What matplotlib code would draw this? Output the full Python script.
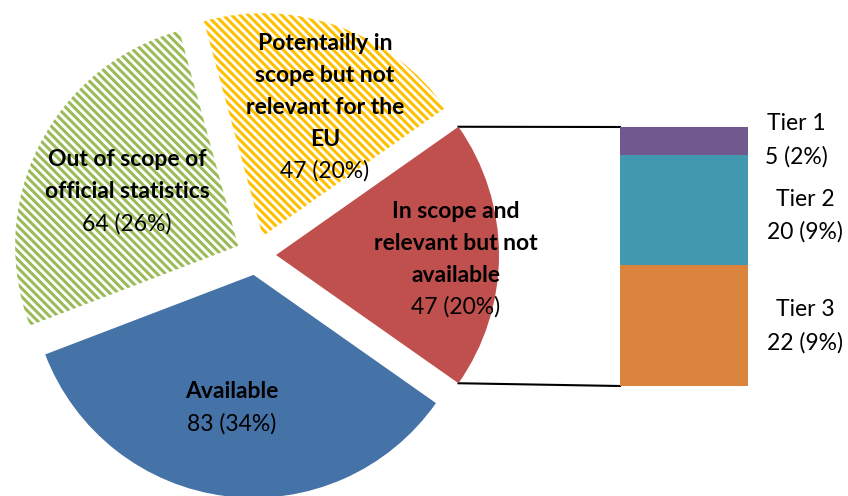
import numpy as np
import matplotlib.pyplot as plt

plt.rcParams['font.family'] = ['Lato', 'DejaVu Sans']
plt.rcParams['hatch.linewidth'] = 2.2

# pie part (counter-clockwise, starting with the slice that is split into the bar)
pie_labels = [["In scope and", "relevant but not", "available"],
              ["Potentailly in", "scope but not", "relevant for the", "EU"],
              ["Out of scope of", "official statistics"],
              ["Available"]]
pie_values = [47, 47, 64, 83]
pie_pct = [20, 20, 26, 34]
pie_colors = ["#C0504D", "#FFC000", "#9BBB59", "#4572A7"]
pie_hatch = [None, "\\\\\\\\", "\\\\\\\\", None]

# bar part (top to bottom)
tier_labels = ["Tier 1", "Tier 2", "Tier 3"]
tier_values = [5, 20, 22]
tier_pct = [2, 9, 9]
tier_colors = ["#71588F", "#4198AF", "#DB843D"]

H = 496
fig = plt.figure(figsize=(8.48, 4.96), dpi=100)
ax = fig.add_axes([0, 0, 1, 1])

cx, cy, r = 256, H - 255, 223
total = sum(pie_values)
start = -pie_values[0] / total * 180
wedges, _ = ax.pie(pie_values, center=(cx, cy), radius=r, startangle=start,
                   explode=[20] * 4, counterclock=True, frame=True)
ax.set_xlim(0, 848)
ax.set_ylim(0, H)
ax.axis("off")
for w, col, h in zip(wedges, pie_colors, pie_hatch):
    w.set_linewidth(0)
    if h:
        w.set_facecolor("white")
        w.set_edgecolor(col)
        w.set_hatch(h)
    else:
        w.set_facecolor(col)

# labels on the pie: first-line y (from top), one line every 32 px
lab_pos = [(456, 211), (325, 43), (127, 160), (232, 392)]
for (x, y0), lines, v, p in zip(lab_pos, pie_labels, pie_values, pie_pct):
    for i, s in enumerate(lines):
        ax.text(x, H - (y0 + 32 * i), s, ha="center", va="center",
                fontsize=16.5, fontweight="bold")
    ax.text(x, H - (y0 + 32 * len(lines)), "%d (%d%%)" % (v, p),
            ha="center", va="center", fontsize=16.5)

# stacked bar
bx0, bw = 620, 128
btop = H - 127
scale = 259 / sum(tier_values)
bottom = btop
for v, col in zip(tier_values, tier_colors):
    ax.bar(bx0, -v * scale, bottom=bottom, width=bw, align="edge", color=col,
           linewidth=0)
    bottom -= v * scale

# connector lines from the split slice to the bar
red = wedges[0]
ex, ey = red.center
top_pt = (ex + r * np.cos(np.radians(red.theta2)), ey + r * np.sin(np.radians(red.theta2)))
bot_pt = (ex + r * np.cos(np.radians(red.theta1)), ey + r * np.sin(np.radians(red.theta1)))
ax.plot([top_pt[0], bx0], [top_pt[1], btop], color="black", lw=1.5, zorder=0)
ax.plot([bot_pt[0], bx0], [bot_pt[1], bottom], color="black", lw=1.5, zorder=0)

# tier labels
tier_x = [796, 805, 805]
tier_y = [(124, 157), (199, 232), (310, 343)]
for x, (y1, y2), lab, v, p in zip(tier_x, tier_y, tier_labels, tier_values, tier_pct):
    ax.text(x, H - y1, lab, ha="center", va="center", fontsize=16.5)
    ax.text(x, H - y2, "%d (%d%%)" % (v, p), ha="center", va="center",
            fontsize=16.5)

fig.savefig("out.png", dpi=100)
